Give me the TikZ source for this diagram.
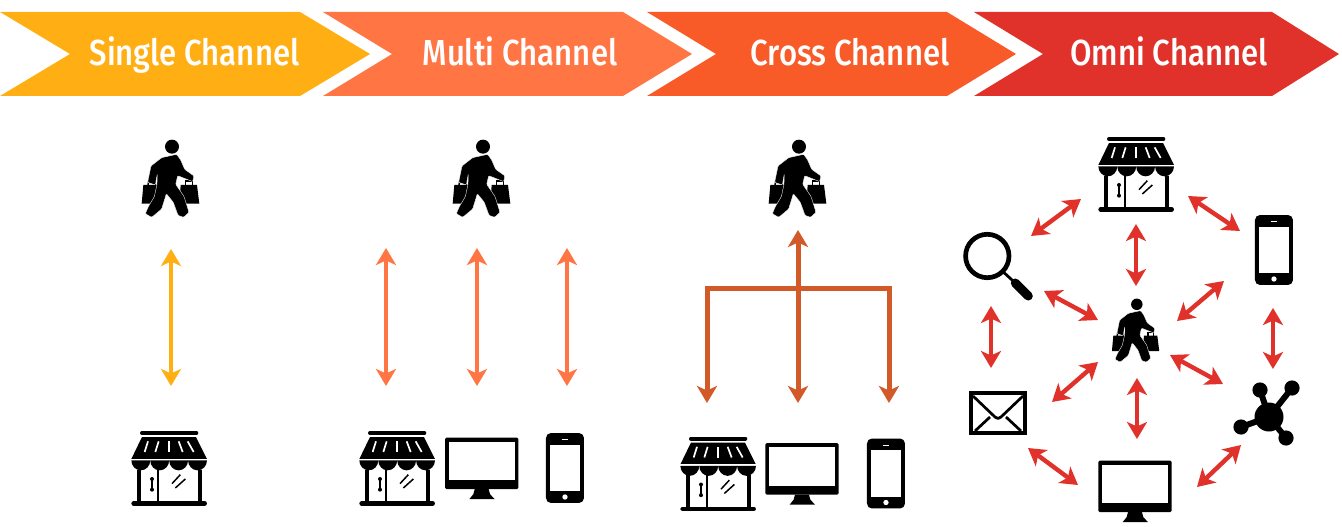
\documentclass[tikz,border=0pt]{standalone}
\usepackage{fontspec}
\setmainfont{Fira Sans Medium}[FakeStretch=0.86]
\usetikzlibrary{arrows.meta}
\definecolor{cAmber}{HTML}{FFAF14}
\definecolor{cOrange}{HTML}{FF7644}
\definecolor{cDeep}{HTML}{F85A28}
\definecolor{cRust}{HTML}{D25A28}
\definecolor{cRed}{HTML}{E0322A}
\tikzset{
  bannertext/.style={text=white,inner sep=0pt,anchor=base,font=\fontsize{36.2}{37}\selectfont},
  dbl/.style={line width=4.4pt,{Stealth[length=17pt,width=20pt,inset=4.5pt]}-{Stealth[length=17pt,width=20pt,inset=4.5pt]}},
  sgl/.style={line width=5pt,-{Stealth[length=17pt,width=20pt,inset=4.5pt]}},
  anchorpt/.style={inner sep=0pt,minimum size=0pt},
  person/.pic={
    \begin{scope}[shift={(-51,-53)},x=0.3333pt,y=-0.3333pt]
      \fill[black] (156,65) circle (21);
      \fill[black] (70,180)--(113,180)--(117,236)--(65,236)--cycle;
      \fill[black] (182,180)--(231,180)--(238,236)--(178,236)--cycle;
      \draw[black,line width=1.5pt] (84,180)--(86,170)--(105,170)--(106,180);
      \draw[black,line width=1.5pt] (197,180)--(197,168)--(217,168)--(217,180);
      \fill[black,draw=white,line width=0.35pt,rounded corners=1pt] (125,98)--(170,88)--(182,105)--(194,133)--(222,153)--(218,170)--(186,157)--(173,152)--(167,178)--(192,214)--(207,262)--(191,277)--(174,271)--(160,232)--(139,206)--(125,252)--(95,277)--(76,266)--(85,245)--(103,215)--(111,178)--(112,146)--(106,180)--(83,172)--(93,123)--cycle;
    \end{scope}
  },
  store/.pic={
    \begin{scope}[shift={(-47,-48.33)},x=0.3333pt,y=-0.3333pt]
      \draw[line width=4pt,line cap=round] (60,40)--(223,40);
      \fill[black] (60,52)--(222,52)--(255,118)--(28,118)--cycle;
      \foreach \a/\b/\c/\d in {78/65/68/97,110/65/100/97,141/65/141/97,170/65/182/97,197/65/215/97}
        \draw[white,line width=1.7pt] (\a,\b)--(\c,\d);
      \foreach \c in {56.4,113.1,169.9,226.6}
        \fill[black] (\c-28.4,122) arc[start angle=180,end angle=360,x radius=28.4,y radius=-30] --cycle;
      \draw[white,line width=0.9pt] (28,118)--(255,118);
      \draw[line width=4.2pt] (50,150)--(50,245);
      \draw[line width=4.2pt] (233,150)--(233,245);
      \draw[line width=1.7pt] (108,150)--(108,245);
      \draw[line width=1.6pt] (90,178)--(90,210);
      \fill (90,178) circle (6);
      \fill (90,210) circle (6);
      \draw[line width=1.5pt] (150,192)--(175,165);
      \draw[line width=1.5pt] (160,205)--(190,178);
      \draw[line width=4.6pt,line cap=round] (35,251)--(248,251);
    \end{scope}
  },
  monitor/.pic={
    \begin{scope}[shift={(-131.67,-47.83)},x=0.3333pt,y=-0.3333pt]
      \fill[black,rounded corners=1.5pt] (285,52) rectangle (505,207);
      \fill[white] (296,64) rectangle (495,180);
      \fill[black] (374,207)--(416,207)--(420,222)--(434,237)--(358,237)--(370,222)--cycle;
    \end{scope}
  },
  phone/.pic={
    \begin{scope}[shift={(-215,-48.33)},x=0.3333pt,y=-0.3333pt]
      \fill[black,rounded corners=5pt] (588,40) rectangle (702,250);
      \fill[white] (600,75) rectangle (690,215);
      \draw[white,line width=0.9pt] (635,60)--(655,60);
      \fill[white] (645,232) circle (8);
    \end{scope}
  },
  lens/.pic={
    \draw[line width=4.7pt] (0,0) circle (21.7);
    \draw[line width=2.8pt] (16,16)--(28,27);
    \draw[line width=9pt,line cap=round] (28,27)--(41,40);
  },
  mail/.pic={
    \draw[line width=4pt] (-27,-20) rectangle (27,20);
    \draw[line width=2.7pt,line join=round] (-25,-17)--(-3,4)--(0,5.5)--(3,4)--(25,-17);
    \draw[line width=2.7pt] (-23,18)--(-8,4);
    \draw[line width=2.7pt] (23,18)--(8,4);
  },
  hub/.pic={
    \foreach \x/\y in {-9/-27,23/-29,-28/10,17/21}{
      \draw[line width=6pt] (0,0)--(\x,\y);
      \fill (\x,\y) circle (7.6);
    }
    \fill (0,0) circle (14.5);
  },
}
\begin{document}
\begin{tikzpicture}[x=1pt,y=-1pt]
\useasboundingbox (0,0) rectangle (1342,527);
% banners
\fill[cAmber] (0,12)--(300,12)--(370,54)--(300,96)--(0,96)--(70,54)--cycle;
\fill[cOrange] (323,12)--(623,12)--(692,54)--(623,96)--(323,96)--(392,54)--cycle;
\fill[cDeep] (647,12)--(947,12)--(1016,54)--(947,96)--(647,96)--(716,54)--cycle;
\fill[cRed] (974,12)--(1272,12)--(1339,54)--(1272,96)--(974,96)--(1043,54)--cycle;
\node[bannertext] (t1) at (194.5,65.5) {Single Channel};
\node[bannertext] (t2) at (520,65.5) {Multi Channel};
\node[bannertext] (t3) at (850,65.5) {Cross Channel};
\node[bannertext] (t4) at (1169,65.5) {Omni Channel};
% single
\node[anchorpt] (p1) at (171,178) {}; \pic at (p1) {person};
\node[anchorpt] (s1) at (169,468) {}; \pic at (s1) {store};
\coordinate (a1) at (171,249); \coordinate (a2) at (171,386);
\draw[dbl,cAmber] (a1)--(a2);
% multi
\node[anchorpt] (p2) at (482,178) {}; \pic at (p2) {person};
\node[anchorpt] (s2) at (397,468) {}; \pic at (s2) {store};
\node[anchorpt] (m2) at (481.7,468) {}; \pic at (m2) {monitor};
\node[anchorpt] (f2) at (565,468) {}; \pic at (f2) {phone};
\coordinate (b1) at (386,248); \coordinate (b2) at (386,386);
\coordinate (b3) at (477,248); \coordinate (b4) at (477,386);
\coordinate (b5) at (567,248); \coordinate (b6) at (567,386);
\draw[dbl,cOrange] (b1)--(b2);
\draw[dbl,cOrange] (b3)--(b4);
\draw[dbl,cOrange] (b5)--(b6);
% cross
\node[anchorpt] (p3) at (798,178) {}; \pic at (p3) {person};
\node[anchorpt] (s3) at (718,473.5) {}; \pic at (s3) {store};
\node[anchorpt] (m3) at (802,473.5) {}; \pic at (m3) {monitor};
\node[anchorpt] (f3) at (886,473.5) {}; \pic at (f3) {phone};
\coordinate (c1) at (798,230); \coordinate (c2) at (798,403);
\coordinate (c3) at (707,403); \coordinate (c4) at (889,403);
\coordinate (c5) at (707,288); \coordinate (c6) at (889,288);
\draw[sgl,cRust] (c5)--(c3);
\draw[sgl,cRust] (c6)--(c4);
\draw[line width=5pt,cRust,line cap=rect] (c5)--(c6);
\draw[dbl,line width=5pt,cRust] (c1)--(c2);
% omni
\node[anchorpt] (s4) at (1136,174) {}; \pic at (s4) {store};
\node[anchorpt] (f4) at (1274,250) {}; \pic at (f4) {phone};
\node[anchorpt] (p4) at (1136,330) {}; \pic[scale=0.82] at (p4) {person};
\node[anchorpt] (l4) at (987.3,256) {}; \pic at (l4) {lens};
\node[anchorpt] (e4) at (998,413) {}; \pic at (e4) {mail};
\node[anchorpt] (h4) at (1269,417) {}; \pic at (h4) {hub};
\node[anchorpt] (m4) at (1135,491) {}; \pic at (m4) {monitor};
\foreach \n/\xa/\ya/\xb/\yb in {
  1/1136/224/1136/286, 2/1044/291/1098/320, 3/1177/321/1224/281,
  4/991/306/991/368, 5/1273/308/1273/369, 6/1098/362/1052/402,
  7/1170/355/1223/384, 8/1137/378/1137/439, 9/1028/448/1078/485,
  10/1241/445/1197/487, 11/1031/236/1081/199, 12/1188/196/1240/231}{
  \coordinate (oa\n) at (\xa,\ya);
  \coordinate (ob\n) at (\xb,\yb);
  \draw[dbl,cRed] (oa\n)--(ob\n);
}
\end{tikzpicture}
\end{document}
